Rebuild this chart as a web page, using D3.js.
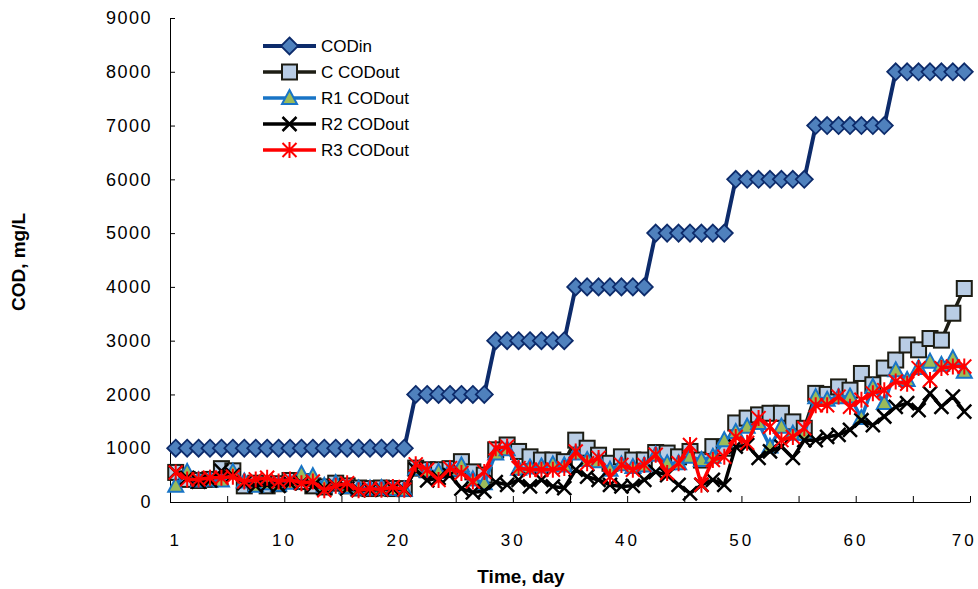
<!DOCTYPE html>
<html>
<head>
<meta charset="utf-8">
<script src="https://cdn.jsdelivr.net/npm/d3@7"></script>
<style>
  body { margin: 0; background: #fff; }
  text { font-family: "Liberation Sans", Arial, sans-serif; }
</style>
</head>
<body>
<div id="chart-area"></div>
<script>
// chart data
var days = d3.range(1, 71);
var dayLabels = [1, 10, 20, 30, 40, 50, 60, 70];
var yTicks = [0, 1000, 2000, 3000, 4000, 5000, 6000, 7000, 8000, 9000];

var codIn = [
	1000,1000,1000,1000,1000,1000,1000,1000,1000,1000,
	1000,1000,1000,1000,1000,1000,1000,1000,1000,1000,
	1000,2000,2000,2000,2000,2000,2000,2000,3000,3000,
	3000,3000,3000,3000,3000,4000,4000,4000,4000,4000,
	4000,4000,5000,5000,5000,5000,5000,5000,5000,6000,
	6000,6000,6000,6000,6000,6000,7000,7000,7000,7000,
	7000,7000,7000,8000,8000,8000,8000,8000,8000,8000
];
var cOut = [
	550,420,400,420,620,580,300,350,300,340,
	400,380,300,280,350,300,260,250,260,250,
	250,630,600,600,620,750,560,500,970,1060,
	940,840,780,780,750,1150,1000,870,720,840,
	780,780,920,910,840,940,780,1030,1000,1470,
	1560,1620,1650,1650,1490,1370,2020,2000,2140,2080,
	2390,2180,2490,2640,2920,2830,3040,3010,3510,3970
];
var r1Out = [
	300,560,400,420,400,560,380,300,350,320,
	360,520,480,300,350,280,250,250,260,240,
	230,620,580,560,600,680,420,350,900,980,
	620,640,660,700,680,900,780,760,600,700,
	650,680,880,720,720,840,780,840,1150,1300,
	1400,1470,1030,1400,1270,1270,1950,1900,1950,1960,
	1560,2140,1840,2450,2270,2490,2610,2550,2670,2420
];
var r2Out = [
	550,450,380,400,580,500,350,300,320,300,
	350,350,300,250,300,250,220,230,230,250,
	230,600,400,450,500,250,180,200,370,320,
	410,290,410,290,260,600,470,410,320,290,
	300,410,560,500,320,160,320,410,320,1030,
	1060,820,940,1030,820,1150,1150,1210,1250,1340,
	1520,1430,1590,1770,1840,1710,2020,1770,1960,1680
];
var r3Out = [
	550,420,420,450,450,470,380,420,450,380,
	420,350,380,220,300,350,220,250,230,280,
	230,700,600,410,630,540,380,560,1000,1030,
	630,600,600,600,630,940,720,820,470,690,
	600,690,880,540,720,1060,320,780,840,1210,
	1100,1560,1400,1150,1210,1370,1800,1800,1960,1770,
	1900,2020,2080,2240,2200,2490,2270,2490,2520,2520
];

var series = [
	{name: "CODin", values: codIn, line: "#0d2b6b", width: 4, marker: "diamond", fill: "#4f81bd", stroke: "#0d2b6b"},
	{name: "C CODout", values: cOut, line: "#1d1d14", width: 3.5, marker: "square", fill: "#b9cde5", stroke: "#1d1d14"},
	{name: "R1 CODout", values: r1Out, line: "#1874c6", width: 3.5, marker: "triangle", fill: "#9bbb59", stroke: "#1874c6"},
	{name: "R2 CODout", values: r2Out, line: "#000000", width: 3.5, marker: "cross", fill: "none", stroke: "#000000"},
	{name: "R3 CODout", values: r3Out, line: "#ff0000", width: 3.5, marker: "star", fill: "none", stroke: "#ff0000"}
];

var width = 978, height = 589;

var svg = d3.select("#chart-area").append("svg")
	.attr("width", width)
	.attr("height", height);

// categories sit between tick marks, ticks every 5 days
var x = d3.scaleLinear().domain([0.5, 70.5]).range([170, 970]);
var y = d3.scaleLinear().domain([0, 9000]).range([502, 18]);

// axes
var yAxis = d3.axisLeft(y)
	.tickValues(yTicks)
	.tickFormat(d3.format("d"))
	.tickSizeInner(-5)
	.tickSizeOuter(0)
	.tickPadding(18);

var yAxisGroup = svg.append("g")
	.attr("transform", "translate(170,0)")
	.call(yAxis);
yAxisGroup.selectAll("text")
	.attr("fill", "#000")
	.style("font-size", "18px")
	.style("letter-spacing", "1.5px");
yAxisGroup.selectAll("line, path").attr("stroke", "#000");

var xAxis = d3.axisBottom(x)
	.tickValues(d3.range(0.5, 71, 5))
	.tickSizeInner(-6)
	.tickSizeOuter(0)
	.tickFormat("");

var xAxisGroup = svg.append("g")
	.attr("transform", "translate(0,502)")
	.call(xAxis);
xAxisGroup.selectAll("line, path").attr("stroke", "#000");

svg.append("g").selectAll("text")
	.data(dayLabels)
	.enter()
	.append("text")
	.attr("x", d => x(d) + (d == 1 ? 0 : d == 70 ? 0 : 6))
	.attr("y", 546)
	.attr("text-anchor", "middle")
	.style("font-size", "17px")
	.style("letter-spacing", "3px")
	.text(d => d);

// axis titles
svg.append("text")
	.attr("transform", "translate(25,262) rotate(-90)")
	.attr("text-anchor", "middle")
	.style("font-size", "19px")
	.style("font-weight", "bold")
	.text("COD, mg/L");

svg.append("text")
	.attr("x", 521)
	.attr("y", 583)
	.attr("text-anchor", "middle")
	.style("font-size", "19px")
	.style("font-weight", "bold")
	.text("Time, day");

// marker drawing
var drawMarker = function(g, s, cx, cy) {
	if (s.marker == "diamond") {
		g.append("path")
			.attr("d", "M" + cx + "," + (cy - 8.5) + "L" + (cx + 8.5) + "," + cy + "L" + cx + "," + (cy + 8.5) + "L" + (cx - 8.5) + "," + cy + "Z")
			.attr("fill", s.fill).attr("stroke", s.stroke).attr("stroke-width", 1.8);
	} else if (s.marker == "square") {
		g.append("rect")
			.attr("x", cx - 7.5).attr("y", cy - 7.5)
			.attr("width", 15).attr("height", 15)
			.attr("fill", s.fill).attr("stroke", s.stroke).attr("stroke-width", 2);
	} else if (s.marker == "triangle") {
		g.append("path")
			.attr("d", "M" + cx + "," + (cy - 8) + "L" + (cx + 7.5) + "," + (cy + 6) + "L" + (cx - 7.5) + "," + (cy + 6) + "Z")
			.attr("fill", s.fill).attr("stroke", s.stroke).attr("stroke-width", 2);
	} else if (s.marker == "cross") {
		g.append("path")
			.attr("d", "M" + (cx - 7) + "," + (cy - 7) + "L" + (cx + 7) + "," + (cy + 7) + "M" + (cx + 7) + "," + (cy - 7) + "L" + (cx - 7) + "," + (cy + 7))
			.attr("stroke", s.stroke).attr("stroke-width", 2.5);
	} else if (s.marker == "star") {
		g.append("path")
			.attr("d", "M" + (cx - 7) + "," + (cy - 7) + "L" + (cx + 7) + "," + (cy + 7) + "M" + (cx + 7) + "," + (cy - 7) + "L" + (cx - 7) + "," + (cy + 7) + "M" + cx + "," + (cy - 8) + "L" + cx + "," + (cy + 8))
			.attr("stroke", s.stroke).attr("stroke-width", 2);
	}
};

var line = d3.line()
	.x((d, i) => x(days[i]))
	.y(d => y(d));

series.forEach(function(s) {
	var g = svg.append("g");
	g.append("path")
		.attr("d", line(s.values))
		.attr("fill", "none")
		.attr("stroke", s.line)
		.attr("stroke-width", s.width)
		.attr("stroke-linejoin", "round");
	s.values.forEach(function(v, i) {
		drawMarker(g, s, x(days[i]), y(v));
	});
});

// legend
var legend = svg.append("g");
series.forEach(function(s, i) {
	var ly = 46 + i * 26;
	var lg = legend.append("g");
	lg.append("line")
		.attr("x1", 263).attr("x2", 316)
		.attr("y1", ly).attr("y2", ly)
		.attr("stroke", s.line)
		.attr("stroke-width", s.width);
	drawMarker(lg, s, 289.5, ly);
	lg.append("text")
		.attr("x", 321)
		.attr("y", ly + 6)
		.style("font-size", "17px")
		.text(s.name);
});
</script>
</body>
</html>
